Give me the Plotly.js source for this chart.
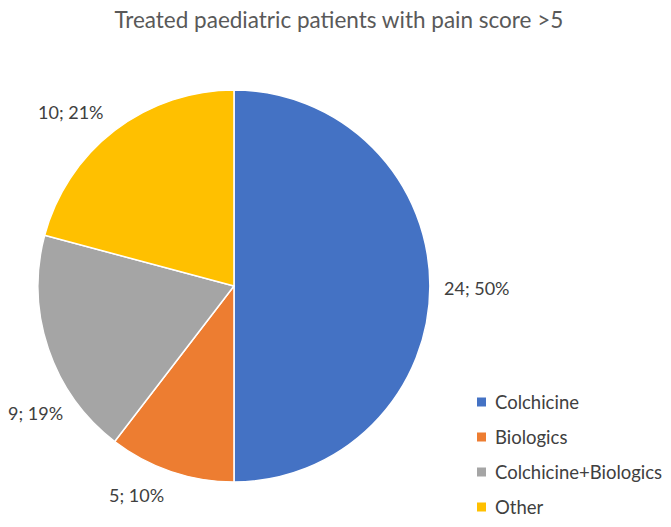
<!DOCTYPE html>
<html>
<head>
<meta charset="utf-8">
<script src="https://cdn.plot.ly/plotly-3.0.1.min.js"></script>
<style>
  body { margin: 0; background: #fff; }
  #chart { width: 671px; height: 527px; }
</style>
</head>
<body>
<div id="chart"></div>
<script>
// treatment groups and patient counts
var categories = ["Colchicine", "Biologics", "Colchicine+Biologics", "Other"];
var patients = [24, 5, 9, 10];
var sliceColors = ["#4472C4", "#ED7D31", "#A5A5A5", "#FFC000"];

var W = 671, H = 527;
function px(x) { return x / W; }
function py(y) { return 1 - y / H; }

var total = patients.reduce(function (a, b) { return a + b; }, 0);

var trace = {
    type: "pie",
    labels: categories,
    values: patients,
    sort: false,
    direction: "clockwise",
    rotation: 0,
    marker: { colors: sliceColors, line: { color: "#ffffff", width: 1.5 } },
    textinfo: "none",
    hoverinfo: "label+value+percent",
    automargin: false,
    showlegend: false,
    domain: { x: [0.0566, 0.6408], y: [0.0854, 0.8292] }
};

// data labels sit where the original chart put them, outside each slice
var labelSpots = [[477, 288], [136, 495], [35, 413], [71, 112]];
var annotations = [];
for (let i = 0; i < categories.length; i++) {
    let pct = Math.round(patients[i] / total * 100);
    annotations.push({
        xref: "paper", yref: "paper",
        x: px(labelSpots[i][0]), y: py(labelSpots[i][1]),
        xanchor: "center", yanchor: "middle",
        text: patients[i] + "; " + pct + "%",
        showarrow: false,
        font: { family: "Lato, sans-serif", size: 18, color: "#404040" }
    });
}

// legend, drawn by hand to get the wide row spacing
var shapes = [];
for (let i = 0; i < categories.length; i++) {
    let cy = 402 + i * 35;
    shapes.push({
        type: "rect", xref: "paper", yref: "paper",
        x0: px(477), x1: px(486), y0: py(cy + 4.5), y1: py(cy - 4.5),
        fillcolor: sliceColors[i], line: { width: 0 }
    });
    annotations.push({
        xref: "paper", yref: "paper",
        x: px(493), y: py(cy),
        xanchor: "left", yanchor: "middle",
        text: categories[i],
        showarrow: false,
        font: { family: "Lato, sans-serif", size: 18.5, color: "#404040" }
    });
}

var layout = {
    width: W,
    height: H,
    margin: { l: 0, r: 0, t: 0, b: 0 },
    paper_bgcolor: "#ffffff",
    font: { family: "Lato, sans-serif", color: "#404040" },
    title: {
        text: "Treated paediatric patients with pain score >5",
        font: { family: "Lato, sans-serif", size: 22.5, color: "#595959" },
        x: 0.505, xanchor: "center",
        y: 0.962, yanchor: "middle"
    },
    showlegend: false,
    annotations: annotations,
    shapes: shapes
};

Plotly.newPlot("chart", [trace], layout, { displayModeBar: false, responsive: false });
</script>
</body>
</html>
